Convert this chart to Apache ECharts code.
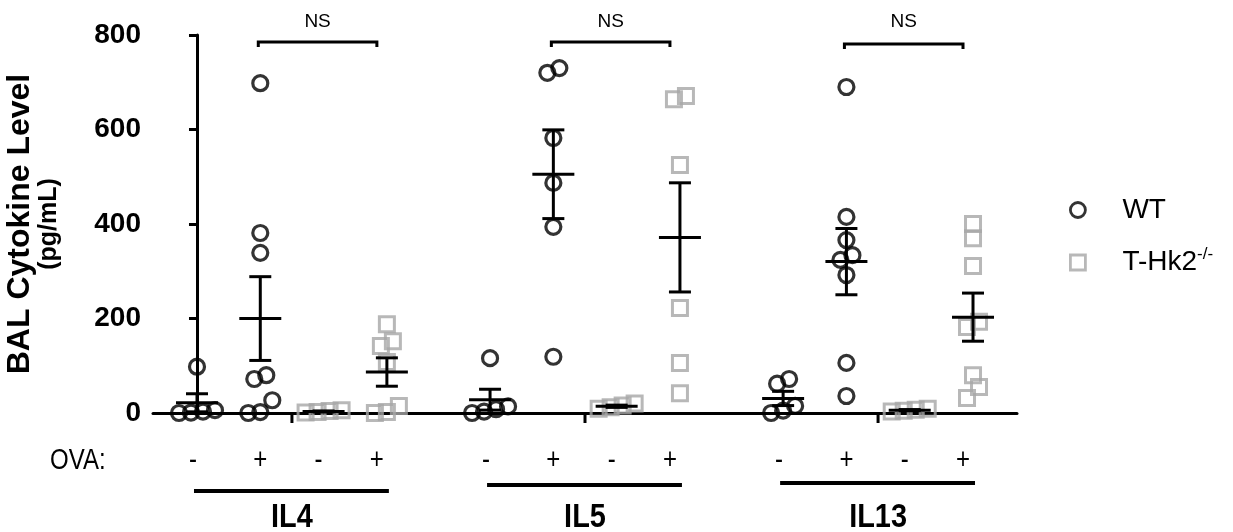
<!DOCTYPE html>
<html><head><meta charset="utf-8">
<script src="https://cdn.jsdelivr.net/npm/echarts@6/dist/echarts.min.js"></script>
<style>html,body{margin:0;padding:0;background:#fff}#c{width:1233px;height:532px}</style>
</head><body><div id="c"></div>
<script>
// ---------------- data ----------------
const cytokines = ['IL4', 'IL5', 'IL13'];
const ovaLabels = ['-', '+', '-', '+'];
const yTicks = [0, 200, 400, 600, 800];
const seriesNames = ['WT', 'T-Hk2'];
const sigLabels = ['NS', 'NS', 'NS'];

const il4WtCtrl = [98, 6, 3, 1, 0];
const il4WtOva = [698, 381, 339, 80, 72, 27, 2, 0];
const il4KoCtrl = [6, 4, 2, 1];
const il4KoOva = [188, 152, 142, 108, 15, 2, 0];

const il5WtCtrl = [116, 14, 8, 3, 0];
const il5WtOva = [730, 720, 582, 487, 394, 119];
const il5KoCtrl = [20, 16, 12, 9];
const il5KoOva = [671, 664, 525, 222, 106, 42];

const il13WtCtrl = [72, 62, 15, 5, 0];
const il13WtOva = [690, 415, 366, 334, 324, 292, 106, 36];
const il13KoCtrl = [9, 7, 5, 3];
const il13KoOva = [400, 370, 311, 193, 182, 80, 55, 32];

// columns per cytokine: WT ctrl, WT OVA, KO ctrl, KO OVA
const columns = [
  [il4WtCtrl, il4WtOva, il4KoCtrl, il4KoOva],
  [il5WtCtrl, il5WtOva, il5KoCtrl, il5KoOva],
  [il13WtCtrl, il13WtOva, il13KoCtrl, il13KoOva]
];

// ---------------- layout / style ----------------
const FONT = "'Liberation Sans', Arial, Helvetica, sans-serif";
const STRIDE = 4.63;          // x-units between cytokine groups
const X_MIN = -0.695, X_MAX = 12.955;
const SPREAD = 12, ROW_TOL = 14; // beeswarm (px)
const labelNudge = [-4, 0, -5, -10];
const underlineY = [491, 485, 483];
const bracketY = [42, 42, 44];
const GRAY = '#a6a6a6';

function mean(a) { return a.reduce((s, v) => s + v, 0) / a.length; }
function sem(a) {
  const m = mean(a);
  const v = a.reduce((s, x) => s + (x - m) * (x - m), 0) / (a.length - 1);
  return Math.sqrt(v) / Math.sqrt(a.length);
}
function swarm(values, kyPx) {
  const idx = values.map((v, i) => i).sort((a, b) => values[a] - values[b]);
  const offs = new Array(values.length).fill(0);
  let row = [];
  const flush = () => {
    const n = row.length;
    row.forEach((k, j) => { offs[k] = (j - (n - 1) / 2) * SPREAD; });
    row = [];
  };
  idx.forEach(k => {
    if (row.length && (values[k] - values[row[0]]) * kyPx > ROW_TOL) flush();
    row.push(k);
  });
  flush();
  return offs;
}
const colX = (g, i) => g * STRIDE + i;

const chart = echarts.init(document.getElementById('c'));
chart.setOption({
  animation: false,
  backgroundColor: '#fff',
  grid: { left: 153, right: 216, top: 35, bottom: 119, containLabel: false, outerBoundsMode: 'none' },
  xAxis: {
    type: 'value', min: X_MIN, max: X_MAX,
    axisLine: { show: true, onZero: false, lineStyle: { color: '#000', width: 3 } },
    axisTick: { show: false }, axisLabel: { show: false }, splitLine: { show: false }
  },
  yAxis: {
    type: 'value', min: yTicks[0], max: yTicks[yTicks.length - 1], interval: yTicks[1] - yTicks[0],
    axisLine: { show: true, lineStyle: { color: '#000', width: 3 } },
    axisTick: { show: true, length: 8, lineStyle: { color: '#000', width: 3 } },
    axisLabel: { color: '#000', fontSize: 28, fontWeight: 'bold', fontFamily: FONT, margin: 12 },
    splitLine: { show: false },
    name: '{a|BAL Cytokine Level}\n{b|(pg/mL)}',
    nameLocation: 'middle', nameRotate: 90, nameGap: 92,
    nameTextStyle: {
      color: '#000', fontFamily: FONT, fontWeight: 'bold', align: 'center',
      rich: {
        a: { fontSize: 32, fontWeight: 'bold', fontFamily: FONT, color: '#000', lineHeight: 34 },
        b: { fontSize: 25, fontWeight: 'bold', fontFamily: FONT, color: '#000', lineHeight: 24 }
      }
    }
  }
});

const p0 = chart.convertToPixel({ gridIndex: 0 }, [0, 0]);
const p1 = chart.convertToPixel({ gridIndex: 0 }, [1, 100]);
const pxX = p1[0] - p0[0];
const pxY = (p0[1] - p1[1]) / 100;

const wtData = [], koData = [], summary = [];
columns.forEach((cols, g) => {
  cols.forEach((vals, i) => {
    const offs = swarm(vals, pxY);
    const target = i < 2 ? wtData : koData;
    vals.forEach((v, k) => target.push([colX(g, i) + offs[k] / pxX, v]));
    summary.push([colX(g, i), mean(vals), sem(vals)]);
  });
});

const pix = (x, y) => chart.convertToPixel({ gridIndex: 0 }, [x, y]);
const graphics = [];
const lineStyle = { stroke: '#000', lineWidth: 3 };
const baseY = pix(0, 0)[1];

// OVA row label
graphics.push({ type: 'text', x: 50, y: 461, scaleX: 0.8,
  style: { text: 'OVA:', fontSize: 30, fontFamily: FONT, fill: '#000', verticalAlign: 'middle', align: 'left' } });

cytokines.forEach((name, g) => {
  // +/- labels
  ovaLabels.forEach((lab, i) => {
    const x = pix(colX(g, i), 0)[0] + labelNudge[i];
    graphics.push({ type: 'text', x: x, y: 461, scaleX: 0.8,
      style: { text: lab, fontSize: 30, fontFamily: FONT, fill: '#000', align: 'center', verticalAlign: 'middle' } });
  });
  const xa = pix(colX(g, 0), 0)[0], xb = pix(colX(g, 3), 0)[0];
  // underline
  graphics.push({ type: 'line', shape: { x1: xa - 3, y1: underlineY[g], x2: xb + 2, y2: underlineY[g] },
    style: { stroke: '#000', lineWidth: 4 } });
  // cytokine label
  const cx = (xa + xb) / 2;
  graphics.push({ type: 'text', x: cx, y: 518, scaleX: 0.85,
    style: { text: name, fontSize: 34, fontWeight: 'bold', fontFamily: FONT, fill: '#000', align: 'center', verticalAlign: 'middle' } });
  // axis tick between WT and KO
  const tx = pix(colX(g, 1.5), 0)[0];
  graphics.push({ type: 'line', shape: { x1: tx, y1: baseY, x2: tx, y2: baseY + 10 }, style: lineStyle });
  // significance bracket
  const bl = pix(colX(g, 1), 0)[0] - 2, br = pix(colX(g, 3), 0)[0] - 10, by = bracketY[g];
  graphics.push({ type: 'polyline', shape: { points: [[bl, by + 5], [bl, by], [br, by], [br, by + 5]] },
    style: { stroke: '#000', lineWidth: 3, fill: null } });
  graphics.push({ type: 'text', x: (bl + br) / 2, y: 22,
    style: { text: sigLabels[g], fontSize: 19, fontFamily: FONT, fill: '#000', align: 'center', verticalAlign: 'middle' } });
});

chart.setOption({
  legend: {
    orient: 'vertical', left: 1064, top: 190, itemGap: 21,
    itemWidth: 15, itemHeight: 15,
    textStyle: { fontSize: 28, fontFamily: FONT, color: '#000', lineHeight: 30, padding: [0, 0, 0, 32],
      rich: { sup: { fontSize: 17, fontFamily: FONT, color: '#000', padding: [0, 0, 16, 0] } } },
    formatter: n => n === 'T-Hk2' ? 'T-Hk2{sup|-/-}' : n,
    data: [
      { name: 'WT', icon: 'circle', itemStyle: { color: 'rgba(0,0,0,0)', borderColor: '#000', borderWidth: 2.8 } },
      { name: 'T-Hk2', icon: 'rect', itemStyle: { color: 'rgba(0,0,0,0)', borderColor: GRAY, borderWidth: 2.8 } }
    ]
  },
  series: [
    { name: seriesNames[0], type: 'scatter', data: wtData, symbol: 'circle', symbolSize: 15, z: 2,
      itemStyle: { color: 'rgba(0,0,0,0)', borderColor: '#000', borderWidth: 3.2 } },
    { name: seriesNames[1], type: 'scatter', data: koData, symbol: 'rect', symbolSize: 15, z: 2,
      itemStyle: { color: 'rgba(0,0,0,0)', borderColor: GRAY, borderWidth: 3 } },
    { name: 'mean ± SEM', type: 'custom', data: summary, z: 3, clip: false,
      encode: { x: 0, y: 1 },
      renderItem: (params, api) => {
        const x = api.value(0), m = api.value(1), s = api.value(2);
        const pm = api.coord([x, m]), pu = api.coord([x, m + s]), pl = api.coord([x, Math.max(m - s, 0)]);
        const st = { stroke: '#000', lineWidth: 3 };
        return { type: 'group', children: [
          { type: 'line', shape: { x1: pm[0] - 21, y1: pm[1], x2: pm[0] + 21, y2: pm[1] }, style: st },
          { type: 'line', shape: { x1: pu[0], y1: pu[1], x2: pl[0], y2: pl[1] }, style: st },
          { type: 'line', shape: { x1: pu[0] - 11, y1: pu[1], x2: pu[0] + 11, y2: pu[1] }, style: st },
          { type: 'line', shape: { x1: pl[0] - 11, y1: pl[1], x2: pl[0] + 11, y2: pl[1] }, style: st }
        ] };
      } }
  ],
  graphic: graphics
});
</script></body></html>
